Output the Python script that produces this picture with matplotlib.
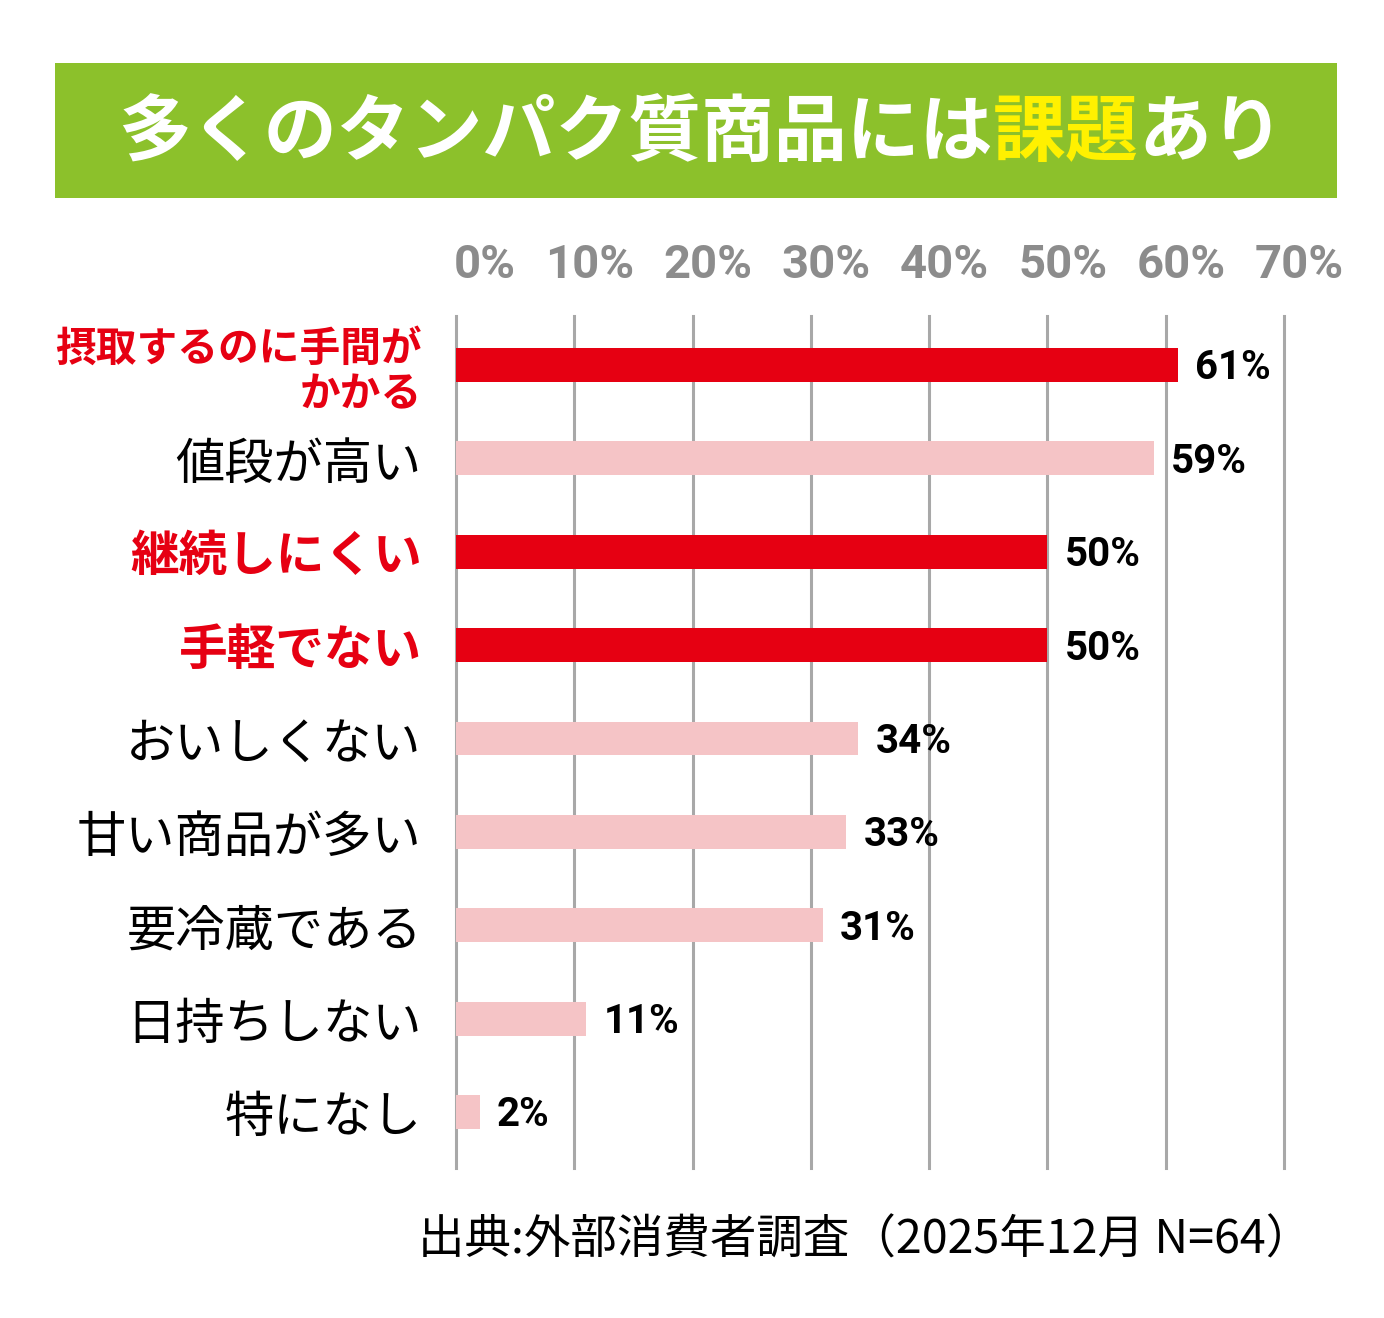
import matplotlib
matplotlib.use("Agg")
import matplotlib.pyplot as plt
from matplotlib.patches import Rectangle

plt.rcParams['font.family'] = ['Noto Sans CJK JP', 'DejaVu Sans']

# ---- data ----
categories = ["摂取するのに手間が\nかかる", "値段が高い", "継続しにくい", "手軽でない",
              "おいしくない", "甘い商品が多い", "要冷蔵である", "日持ちしない", "特になし"]
values = [61, 59, 50, 50, 34, 33, 31, 11, 2]
highlight = [True, False, True, True, False, False, False, False, False]
xticks = [0, 10, 20, 30, 40, 50, 60, 70]
title_parts = ["多くのタンパク質商品には", "課題", "あり"]
source_text = "出典:外部消費者調査（2025年12月 N=64）"

RED = "#E60012"
PINK = "#F5C4C6"
GREEN = "#8CC12B"
YELLOW = "#FFF100"
GRID = "#A8A8A8"
TICKGRAY = "#8C8C8C"

W, H = 1384, 1318
fig = plt.figure(figsize=(W / 100, H / 100), dpi=100)
fig.patch.set_facecolor("white")

# ---- title banner ----
TY = 1 - 134 / H
fig.patches.append(Rectangle((55 / W, 1 - 198 / H), (1337 - 55) / W, (198 - 63) / H,
                             transform=fig.transFigure, facecolor=GREEN, edgecolor="none"))
t1 = fig.text(118 / W, TY, title_parts[0], color="white", fontsize=52.5,
              fontweight="bold", ha="left", va="center")
t2 = fig.text(0, 0, title_parts[1], color=YELLOW, fontsize=52.5, fontweight="bold")
t3 = fig.text(0, 0, title_parts[2], color="white", fontsize=52.5, fontweight="bold")

# ---- axes ----
ax_left, ax_right, ax_top, ax_bottom = 456, 1284, 316, 1168
ax = fig.add_axes([ax_left / W, 1 - ax_bottom / H, (ax_right - ax_left) / W, (ax_bottom - ax_top) / H])
ax.set_xlim(0, 70)
ax.set_ylim(8.6, -0.525)
for s in ax.spines.values():
    s.set_visible(False)
ax.set_xticks([])

for v in xticks:
    ax.axvline(v, color=GRID, lw=2.2, zorder=0, clip_on=False)
    ax.annotate(f"{v}%", xy=(v, 1), xycoords=("data", "axes fraction"),
                xytext=(60 * 0.72, 27.4), textcoords="offset points",
                ha="right", va="baseline", color=TICKGRAY, fontsize=34,
                fontweight="bold", family=["Roboto", "DejaVu Sans"])

ypos = list(range(len(categories)))
colors = [RED if h else PINK for h in highlight]
ax.barh(ypos, values, height=0.364, color=colors, zorder=2)

for y, v in zip(ypos, values):
    ax.annotate(f"{v}%", xy=(v, y), xytext=(12.5, -10.4), textcoords="offset points",
                ha="left", va="baseline", fontsize=29, fontweight="bold",
                color="black", family=["Roboto", "DejaVu Sans"])

ax.set_yticks(ypos)
ax.set_yticklabels(categories)
ax.tick_params(axis="y", length=0, pad=24.6)
for lab, h, cat in zip(ax.get_yticklabels(), highlight, categories):
    if h:
        lab.set_color(RED)
        lab.set_fontweight("bold")
        lab.set_fontsize(29.3 if "\n" in cat else 35)
    else:
        lab.set_color("black")
        lab.set_fontsize(35.5)
    lab.set_linespacing(1.15)

# ---- source ----
fig.text(1312 / W, 1 - 1240 / H, source_text, ha="right", va="center", fontsize=33.5, color="black")

# chain title segments
fig.canvas.draw()
r = fig.canvas.get_renderer()
bb = t1.get_window_extent(r)
t2.set_position(fig.transFigure.inverted().transform((bb.x1, 0)))
t2.set_y(TY); t2.set_va("center")
bb2 = t2.get_window_extent(r)
t3.set_position(fig.transFigure.inverted().transform((bb2.x1, 0)))
t3.set_y(TY); t3.set_va("center")

fig.savefig("out.png", dpi=100, facecolor="white")
